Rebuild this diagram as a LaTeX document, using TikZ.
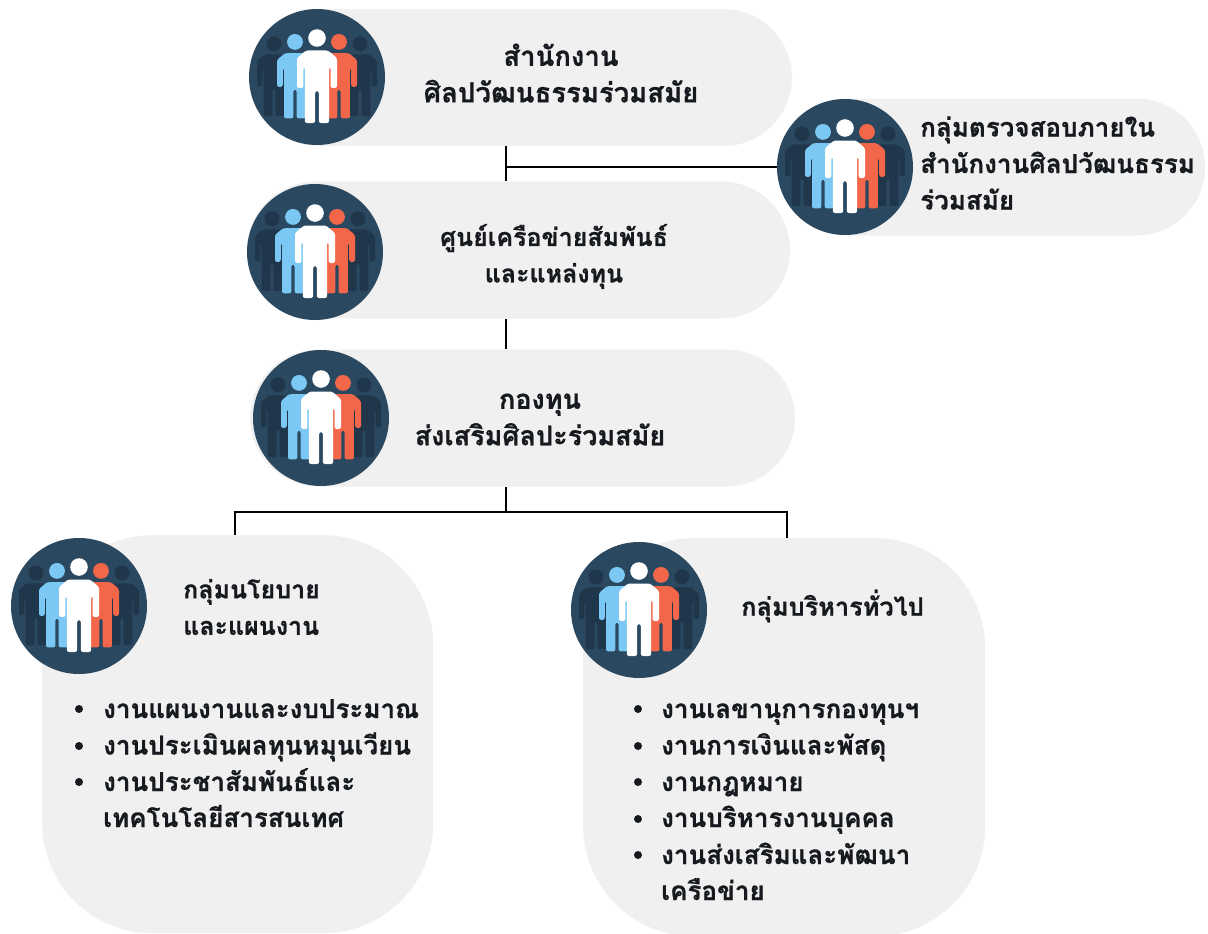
\documentclass[tikz,border=0pt]{standalone}
\usepackage{fontspec}
\newfontfamily\thaifont[Script=Thai,BoldFeatures={FakeBold=0.7}]{Loma}
\definecolor{pillgrey}{HTML}{F0F0F0}
\definecolor{disc}{HTML}{2A4860}
\definecolor{darkfig}{HTML}{20364A}
\definecolor{pblue}{HTML}{7CC8F5}
\definecolor{pred}{HTML}{F2664A}
\definecolor{ink}{HTML}{161A1E}
\newcommand{\personshape}[3]{%
  \begin{scope}[shift={(#1,0)},scale=#2]
    \fill[#3] (0,-39) circle[radius=8.8];
    \fill[#3,rounded corners=2.2pt] (-11,-26.5) -- (11,-26.5) -- (20,-19) -- (20,11) -- (13.6,11) -- (13.6,-10) -- (12.2,-10) -- (12.2,46) -- (1.8,46) -- (1.8,14) -- (-1.8,14) -- (-1.8,46) -- (-12.2,46) -- (-12.2,-10) -- (-13.6,-10) -- (-13.6,11) -- (-20,11) -- (-20,-19) -- cycle;
  \end{scope}}
\tikzset{
  x=1pt,y=-1pt,
  pill/.style={fill=pillgrey,draw=none,inner sep=0pt,minimum width=#1,minimum height=137pt,rounded corners=68.5pt},
  bigpanel/.style={fill=pillgrey,draw=none,inner sep=0pt,minimum width=#1,minimum height=398pt,rounded corners=110pt},
  textlabel/.style={font=\thaifont\bfseries\fontsize{#1}{36.5}\selectfont,text=ink,align=center,inner sep=0pt},
  textlabel/.default=26,
  leftlabel/.style={textlabel=#1,align=left,anchor=west},
  leftlabel/.default=26,
  item/.style={font=\thaifont\bfseries\fontsize{26}{36.5}\selectfont,text=ink,inner sep=0pt,anchor=base west},
  dot/.style={circle,fill=ink,inner sep=0pt,minimum size=8pt},
  link/.style={draw=black,line width=2pt},
  people/.pic={
    \fill[disc] (0,0) circle[radius=68];
    \personshape{-43}{.85}{darkfig}
    \personshape{43}{.85}{darkfig}
    \personshape{-22}{.9}{pblue}
    \personshape{22}{.9}{pred}
    \personshape{0}{1}{white}
  }
}
\begin{document}
\begin{tikzpicture}
\useasboundingbox (0,0) rectangle (1208,934);
\clip (0,0) rectangle (1208,934);
\coordinate (trunk) at (506,0);
\coordinate (leftdrop) at (235,0);
\coordinate (rightdrop) at (787,0);
\coordinate (busline) at (0,512);
\coordinate (sideline) at (0,167);
% panels
\node[pill=542pt] (office) at (521,77.5) {};
\node[pill=543pt] (centre) at (518.5,250) {};
\node[pill=545pt] (fund) at (522.5,418) {};
\node[pill=427pt] (audit) at (991.5,167) {};
\node[bigpanel=391pt,anchor=north west] (policy) at (42,535) {};
\node[bigpanel=402pt,anchor=north west] (admin) at (583,538) {};
% connectors
\draw[link] (trunk |- office.south) -- (trunk |- centre.north);
\draw[link] (trunk |- sideline) -- (audit.west |- sideline);
\draw[link] (trunk |- centre.south) -- (trunk |- fund.north);
\draw[link] (trunk |- fund.south) -- (trunk |- busline);
\draw[link] (leftdrop |- policy.north) -- (leftdrop |- busline) -- (rightdrop |- busline) -- (rightdrop |- admin.north);
% icons
\pic at (317,77) {people};
\pic at (315,252) {people};
\pic at (321,418) {people};
\pic at (845,167) {people};
\pic at (79,606) {people};
\pic at (639,610) {people};
% labels
\node[textlabel=27.5] (officetext) at (561,73) {สำนักงาน\\ศิลปวัฒนธรรมร่วมสมัย};
\node[textlabel=25] (centretext) at (554,256.5) {ศูนย์เครือข่ายสัมพันธ์\\และแหล่งทุน};
\node[textlabel=27] (fundtext) at (540,419.5) {กองทุน\\ส่งเสริมศิลปะร่วมสมัย};
\node[leftlabel] (audittext) at (920,163) {กลุ่มตรวจสอบภายใน\\สำนักงานศิลปวัฒนธรรม\\ร่วมสมัย};
\node[leftlabel=25] (policytext) at (183,607) {กลุ่มนโยบาย\\และแผนงาน};
\node[leftlabel=25.3] (admintext) at (741,606) {กลุ่มบริหารทั่วไป};
% left list
\node[dot] (pd1) at (79,709) {};
\node[dot] (pd2) at (79,746) {};
\node[dot] (pd3) at (79,782) {};
\node[item] (pi1) at (103,718) {งานแผนงานและงบประมาณ};
\node[item] (pi2) at (103,754.5) {งานประเมินผลทุนหมุนเวียน};
\node[item] (pi3) at (103,791) {งานประชาสัมพันธ์และ};
\node[item] (pi4) at (103,827) {เทคโนโลยีสารสนเทศ};
% right list
\node[dot] (ad1) at (638,709) {};
\node[dot] (ad2) at (638,746) {};
\node[dot] (ad3) at (638,782) {};
\node[dot] (ad4) at (638,819) {};
\node[dot] (ad5) at (638,855) {};
\node[item] (ai1) at (661,718) {งานเลขานุการกองทุนฯ};
\node[item] (ai2) at (661,754.5) {งานการเงินและพัสดุ};
\node[item] (ai3) at (661,791) {งานกฎหมาย};
\node[item] (ai4) at (661,827) {งานบริหารงานบุคคล};
\node[item] (ai5) at (661,864) {งานส่งเสริมและพัฒนา};
\node[item] (ai6) at (661,900) {เครือข่าย};
\end{tikzpicture}
\end{document}
